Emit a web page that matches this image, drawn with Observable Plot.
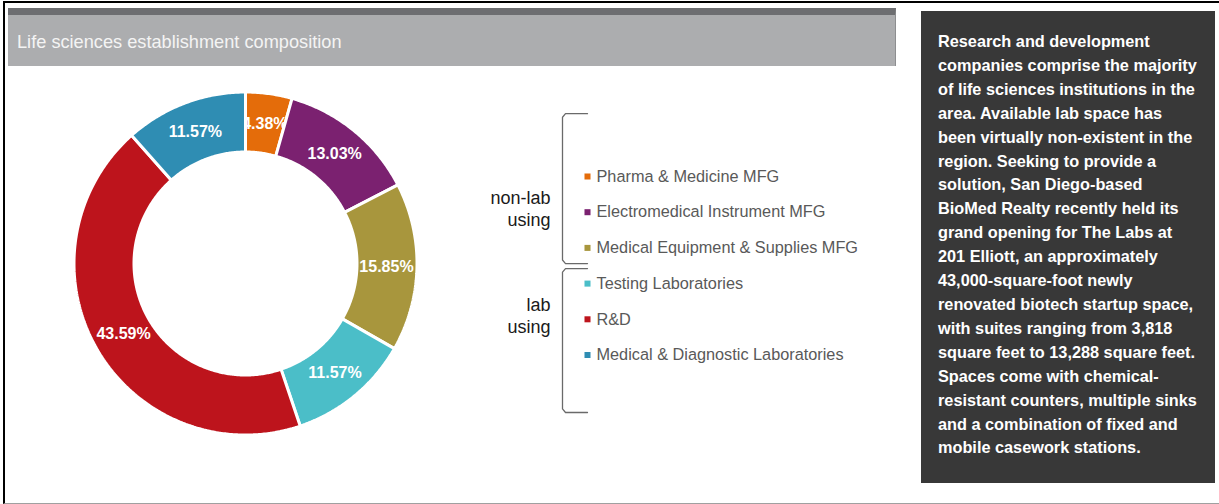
<!DOCTYPE html>
<html><head><meta charset="utf-8">
<script src="https://cdn.jsdelivr.net/npm/d3@7"></script>
<script src="https://cdn.jsdelivr.net/npm/@observablehq/plot@0.6"></script>
<style>
html,body{margin:0;padding:0;background:#fff;}
#page{position:relative;width:1219px;height:504px;overflow:hidden;font-family:"Liberation Sans",Arial,sans-serif;}
#frame{position:absolute;left:3px;top:1px;width:1216px;height:503px;border-top:2px solid #000;border-left:2px solid #000;border-bottom:1px solid #a0a0a0;box-sizing:border-box;}
#titlebar{position:absolute;left:8px;top:8px;width:888px;height:58px;background:#acadaf;border-top:7px solid #6d6e71;border-right:1px solid #8d8e90;box-sizing:border-box;}
#title{position:absolute;left:17px;top:30px;font-size:18.2px;color:#f4f4f4;line-height:24px;white-space:nowrap;}
#panel{position:absolute;left:921px;top:11px;width:294px;height:472px;background:#383838;}
#paneltext{position:absolute;left:938px;top:30px;font-size:16.3px;font-weight:bold;color:#fff;line-height:23.9px;white-space:nowrap;}
#donut{position:absolute;left:65px;top:83px;}
#legend{position:absolute;left:460px;top:100px;}
</style></head>
<body><div id="page">
<div id="frame"></div>
<div id="titlebar"></div>
<div id="title">Life sciences establishment composition</div>
<div id="panel"></div>
<div id="paneltext"></div>
<div id="donut"></div>
<div id="legend"></div>
</div>
<script>
const categories = ["Pharma & Medicine MFG", "Electromedical Instrument MFG", "Medical Equipment & Supplies MFG", "Testing Laboratories", "R&D", "Medical & Diagnostic Laboratories"];
const shares = [4.38, 13.03, 15.85, 11.57, 43.59, 11.57];
const colors = ["#e46c0a", "#7b2170", "#a8963d", "#4bbec8", "#bd141c", "#2f8db3"];
const groupLabels = ["non-lab\nusing", "lab\nusing"];
const groupMembers = [[0, 1, 2], [3, 4, 5]];
const panelLines = [
  "Research and development",
  "companies comprise the majority",
  "of life sciences institutions in the",
  "area. Available lab space has",
  "been virtually non-existent in the",
  "region. Seeking to provide a",
  "solution, San Diego-based",
  "BioMed Realty recently held its",
  "grand opening for The Labs at",
  "201 Elliott, an approximately",
  "43,000-square-foot newly",
  "renovated biotech startup space,",
  "with suites ranging from 3,818",
  "square feet to 13,288 square feet.",
  "Spaces come with chemical-",
  "resistant counters, multiple sinks",
  "and a combination of fixed and",
  "mobile casework stations."
];

const FONT = '"Liberation Sans", Arial, sans-serif';
document.getElementById("paneltext").innerHTML = panelLines.map(l => l.replace(/&/g, "&amp;")).join("<br>");

// ---- Donut ----
const arcs = d3.pie().sort(null).value(d => d)(shares);
const R0 = 111.5, R1 = 171.5, RL = 141;
const pts = [];
const labels = [];
arcs.forEach((a, i) => {
  const n = Math.max(2, Math.ceil((a.endAngle - a.startAngle) / 0.01));
  let first = null;
  for (let k = 0; k <= n; k++) {
    const t = a.startAngle + (a.endAngle - a.startAngle) * k / n;
    const p = {name: categories[i], x: R1 * Math.sin(t), y: R1 * Math.cos(t)};
    if (!first) first = p;
    pts.push(p);
  }
  for (let k = n; k >= 0; k--) {
    const t = a.startAngle + (a.endAngle - a.startAngle) * k / n;
    pts.push({name: categories[i], x: R0 * Math.sin(t), y: R0 * Math.cos(t)});
  }
  pts.push({...first});
  const m = (a.startAngle + a.endAngle) / 2;
  labels.push({name: categories[i], x: RL * Math.sin(m), y: RL * Math.cos(m), text: shares[i].toFixed(2) + "%"});
});

const colorScale = {domain: categories, range: colors};
const donutMarks = arcs.flatMap((a, i) => [
  Plot.line(pts, {filter: d => d.name === categories[i], x: "x", y: "y", z: "name", fill: "name", stroke: "white", strokeWidth: 3, strokeLinejoin: "miter"}),
  Plot.text([labels[i]], {x: "x", y: "y", text: "text", fill: "white", fontWeight: "bold", fontSize: 16})
]);

document.getElementById("donut").append(Plot.plot({
  width: 360, height: 360, margin: 0,
  x: {domain: [-180, 180], axis: null},
  y: {domain: [-180, 180], axis: null},
  color: colorScale,
  style: {fontFamily: FONT, background: "transparent", overflow: "visible"},
  marks: donutMarks
}));

// ---- Legend with brackets ----
const rowPx = 35.7, row0 = 76, LH = 330, LW = 440;
const legendRows = categories.map((c, i) => ({name: c, row: i}));
const groupRows = groupLabels.map((g, j) => ({label: g, row: d3.mean(groupMembers[j]) - 0.13}));
const bracketExt = [[-1.76, 2.44], [2.58, 6.61]];
const bracketPts = [];
bracketExt.forEach(([t, b], j) => {
  const xs = [127, 105, 102, 102, 105, 127];
  const ys = [t, t, t + 0.1, b - 0.1, b, b];
  xs.forEach((x, k) => bracketPts.push({g: j, x, y: ys[k]}));
});

document.getElementById("legend").append(Plot.plot({
  width: LW, height: LH, margin: 0,
  x: {domain: [0, LW], range: [0, LW], axis: null},
  y: {domain: [-row0 / rowPx, (LH - row0) / rowPx], range: [0, LH], axis: null},
  color: colorScale,
  style: {fontFamily: FONT, background: "transparent", overflow: "visible"},
  marks: [
    Plot.line(bracketPts, {x: "x", y: "y", z: "g", stroke: "#6a6a6a", strokeWidth: 1.3, curve: "linear"}),
    Plot.dot(legendRows, {x: () => 127, y: "row", symbol: "square", r: 3.4, fill: "name"}),
    Plot.text(legendRows, {x: () => 136, y: "row", text: "name", textAnchor: "start", fontSize: 16.3, fill: "#595959"}),
    Plot.text(groupRows, {x: () => 90, y: "row", text: "label", textAnchor: "end", fontSize: 18, fill: "#1a1a1a", lineHeight: 1.22})
  ]
}));
</script>
</body></html>
